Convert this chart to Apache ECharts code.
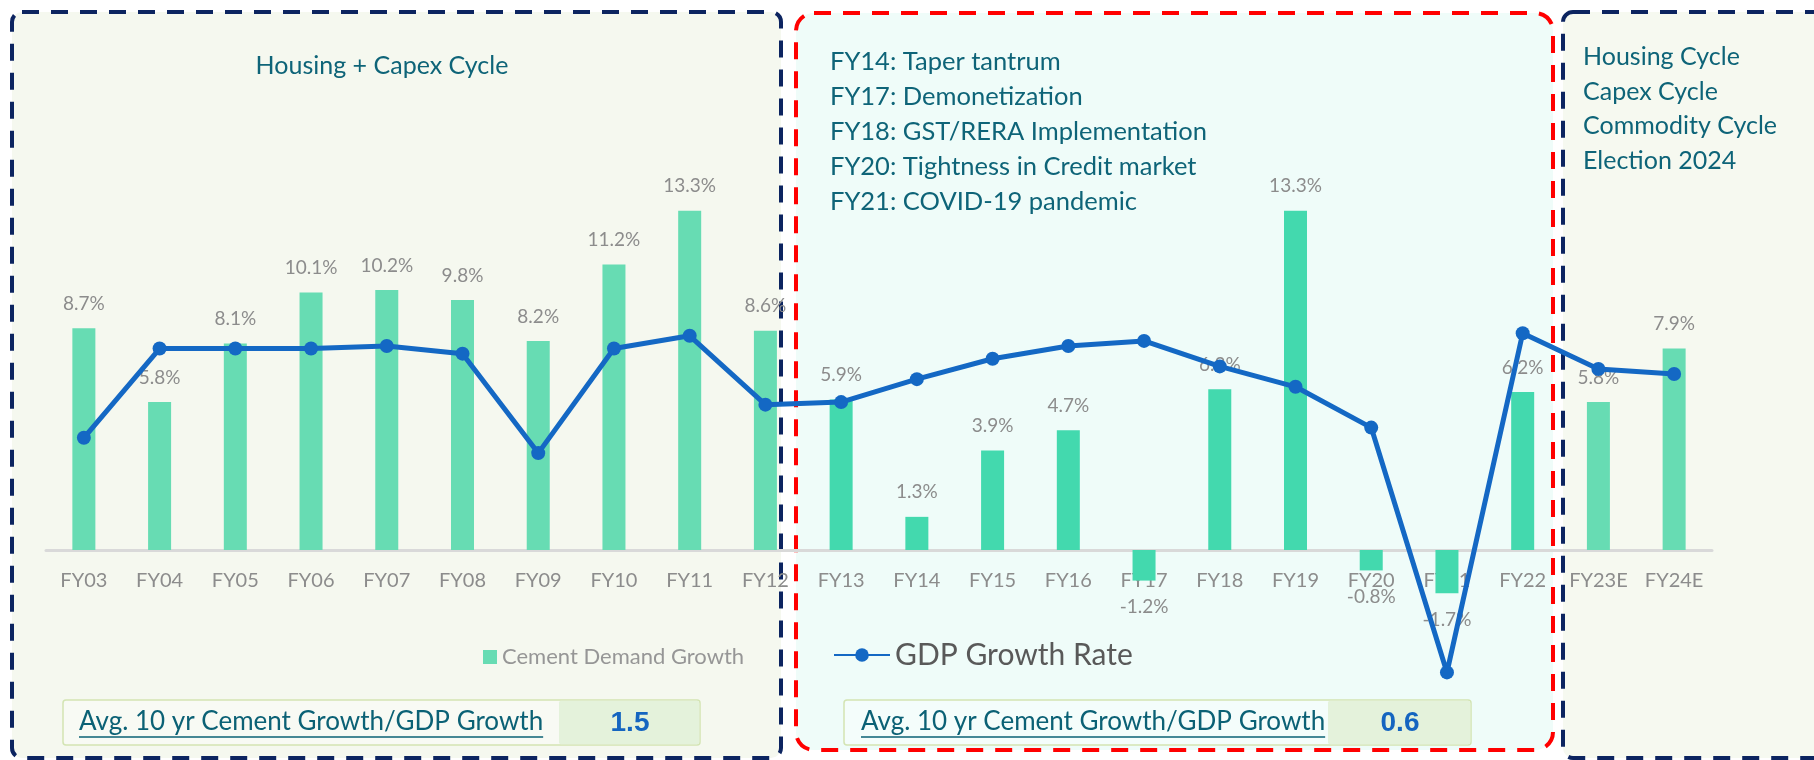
<!DOCTYPE html>
<html>
<head>
<meta charset="utf-8">
<title>Cement demand vs GDP growth</title>
<script src="https://cdn.jsdelivr.net/npm/echarts@6/dist/echarts.min.js"></script>
<style>
  html, body { margin: 0; padding: 0; background: #ffffff; }
  #chart { width: 1814px; height: 760px; }
</style>
</head>
<body>
<div id="chart"></div>
<script>
// data
const categories = ['FY03', 'FY04', 'FY05', 'FY06', 'FY07', 'FY08', 'FY09', 'FY10', 'FY11', 'FY12',
  'FY13', 'FY14', 'FY15', 'FY16', 'FY17', 'FY18', 'FY19', 'FY20', 'FY21', 'FY22', 'FY23E', 'FY24E']
const cementGrowth = [8.7, 5.8, 8.1, 10.1, 10.2, 9.8, 8.2, 11.2, 13.3, 8.6,
  5.9, 1.3, 3.9, 4.7, -1.2, 6.3, 13.3, -0.8, -1.7, 6.2, 5.8, 7.9]
const gdpGrowth = [4.4, 7.9, 7.9, 7.9, 8.0, 7.7, 3.8, 7.9, 8.4, 5.7,
  5.8, 6.7, 7.5, 8.0, 8.2, 7.2, 6.4, 4.8, -4.8, 8.5, 7.1, 6.9]
// FY13..FY22 sit inside the red box
const middleYears = ['FY13', 'FY14', 'FY15', 'FY16', 'FY17', 'FY18', 'FY19', 'FY20', 'FY21', 'FY22']

const leftTitle = 'Housing + Capex Cycle'
const middleNotes = ['FY14: Taper tantrum', 'FY17: Demonetization', 'FY18: GST/RERA Implementation',
  'FY20: Tightness in Credit market', 'FY21: COVID-19 pandemic']
const rightNotes = ['Housing Cycle', 'Capex Cycle', 'Commodity Cycle', 'Election 2024']
const ratioLabel = 'Avg. 10 yr Cement Growth/GDP Growth'
const ratioValues = ['1.5', '0.6']

const FONT = 'Lato'
const TEAL = '#0e6478'

function textWidth(str, size) {
  const ctx = document.createElement('canvas').getContext('2d')
  ctx.font = size + 'px ' + FONT
  return ctx.measureText(str).width
}

const barData = cementGrowth.map((v, i) => {
  const item = { value: v }
  if (middleYears.indexOf(categories[i]) >= 0) {
    item.itemStyle = { color: '#43d9ae' }
  }
  if (v < 0) {
    item.label = { position: 'bottom', distance: 17 }
  }
  return item
})

// background panels + annotation texts
const graphics = []
const dash = [17, 12]
graphics.push({
  type: 'rect', z: 0,
  shape: { x: 12, y: 12, width: 769, height: 746, r: 10 },
  style: { fill: '#f5f8ef', stroke: '#0c2460', lineWidth: 4, lineDash: dash }
})
graphics.push({
  type: 'rect', z: 0,
  shape: { x: 1563, y: 12, width: 300, height: 746, r: 10 },
  style: { fill: '#f6f9f0', stroke: '#0c2460', lineWidth: 4, lineDash: dash }
})
graphics.push({
  type: 'rect', z: 0,
  shape: { x: 796, y: 13, width: 757, height: 737, r: 18 },
  style: { fill: '#effcf9', stroke: '#ff0000', lineWidth: 4, lineDash: dash }
})

graphics.push({
  type: 'text', z: 1, x: 382, y: 66,
  style: { text: leftTitle, fill: TEAL, font: '25px ' + FONT, align: 'center', verticalAlign: 'middle' }
})
middleNotes.forEach((t, i) => {
  graphics.push({
    type: 'text', z: 1, x: 830, y: 62 + i * 35,
    style: { text: t, fill: TEAL, font: '25.5px ' + FONT, verticalAlign: 'middle' }
  })
})
rightNotes.forEach((t, i) => {
  graphics.push({
    type: 'text', z: 1, x: 1583, y: 57 + i * 34.5,
    style: { text: t, fill: TEAL, font: '25px ' + FONT, verticalAlign: 'middle' }
  })
})

// the two ratio boxes at the bottom
const ratioBoxes = [
  { x: 63, w: 637, split: 559, textX: 79, valueX: 630 },
  { x: 844, w: 627, split: 1328, textX: 861, valueX: 1400 }
]
const ulWidth = textWidth(ratioLabel, 26)
ratioBoxes.forEach((b, i) => {
  graphics.push({
    type: 'rect', z: 5,
    shape: { x: b.x, y: 700, width: b.w, height: 45, r: 3 },
    style: { fill: 'rgba(255,255,255,0.35)', stroke: '#d3e4b3', lineWidth: 1.5 }
  })
  graphics.push({
    type: 'rect', z: 5,
    shape: { x: b.split, y: 700.75, width: b.x + b.w - b.split - 0.75, height: 43.5, r: 2 },
    style: { fill: '#e4f2db' }
  })
  graphics.push({
    type: 'text', z: 6, x: b.textX, y: 722,
    style: { text: ratioLabel, fill: '#0b6175', font: '26px ' + FONT, verticalAlign: 'middle' }
  })
  graphics.push({
    type: 'line', z: 6,
    shape: { x1: b.textX, y1: 737, x2: b.textX + ulWidth, y2: 737 },
    style: { stroke: '#0b6175', lineWidth: 1.5 }
  })
  graphics.push({
    type: 'text', z: 6, x: b.valueX, y: 723,
    style: { text: ratioValues[i], fill: '#1565c0', font: 'bold 28px Arial, "Liberation Sans"', align: 'center', verticalAlign: 'middle' }
  })
})

const chart = echarts.init(document.getElementById('chart'))
chart.setOption({
  animation: false,
  backgroundColor: '#ffffff',
  graphic: graphics,
  // grid bottom is the zero line; negatives are drawn below it (clip off)
  grid: { left: 46, right: 102, top: 142, height: 408 },
  legend: [
    {
      data: ['Cement Demand Growth'],
      left: 483, top: 646, padding: 0,
      icon: 'rect', itemWidth: 14, itemHeight: 14,
      textStyle: { color: '#969696', fontSize: 22, fontFamily: FONT }
    },
    {
      data: ['GDP Growth Rate'],
      left: 833, top: 640, padding: 0,
      itemWidth: 56, itemHeight: 17,
      textStyle: { color: '#595959', fontSize: 30, fontFamily: FONT }
    }
  ],
  xAxis: {
    type: 'category',
    data: categories,
    axisLine: { lineStyle: { color: '#d9d9d9', width: 3 } },
    axisTick: { show: false },
    axisLabel: { interval: 0, hideOverlap: false, color: '#8c8c8c', fontSize: 20, fontFamily: FONT, margin: 21 }
  },
  yAxis: { type: 'value', min: 0, max: 16, show: false },
  series: [
    {
      name: 'Cement Demand Growth',
      type: 'bar',
      barWidth: 23,
      clip: false,
      itemStyle: { color: '#67dcb3' },
      label: {
        show: true,
        position: 'top',
        distance: 15,
        color: '#8c8c8c',
        fontSize: 19,
        fontFamily: FONT,
        formatter: p => p.value.toFixed(1) + '%'
      },
      data: barData
    },
    {
      name: 'GDP Growth Rate',
      type: 'line',
      z: 4,
      clip: false,
      symbol: 'circle',
      symbolSize: 14,
      itemStyle: { color: '#1468c4' },
      lineStyle: { color: '#1468c4', width: 5 },
      data: gdpGrowth
    }
  ]
})
</script>
</body>
</html>
